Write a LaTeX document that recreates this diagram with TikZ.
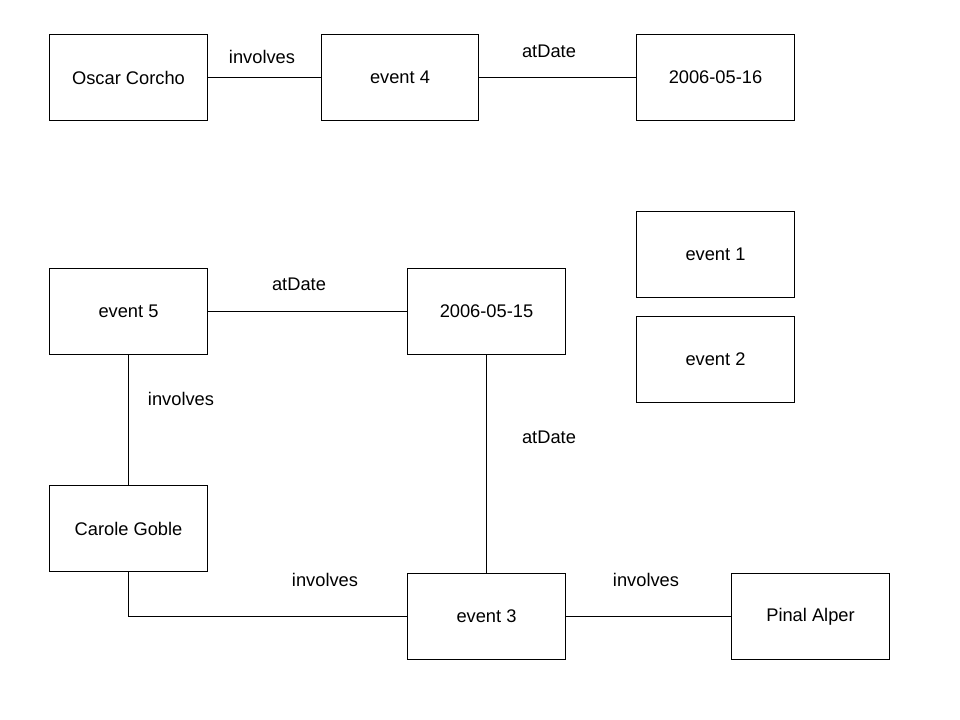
\documentclass[tikz,border=0pt]{standalone}
\usepackage{fontspec}
\setmainfont{Liberation Sans}
\usetikzlibrary{positioning}

\begin{document}
\begin{tikzpicture}[x=0.025cm, y=-0.025cm, line width=0.7pt,
    entity/.style={draw, minimum width=3.925cm, minimum height=2.125cm, font=\fontsize{13}{15}\selectfont},
    rel/.style={font=\fontsize{13}{15}\selectfont}]
    \useasboundingbox (0,0) rectangle (960,720);
    \node[entity] (oscar) at (128.5,77.5) {Oscar Corcho};
    \node[entity] (ev4) at (400,77.5) {event 4};
    \node[entity] (d16) at (715.5,77.5) {2006-05-16};
    \node[entity] (ev1) at (715.5,254.5) {event 1};
    \node[entity] (ev2) at (715.5,359.5) {event 2};
    \node[entity] (ev5) at (128.5,311.5) {event 5};
    \node[entity] (d15) at (486.5,311.5) {2006-05-15};
    \node[entity] (carole) at (128.5,528.5) {Carole Goble};
    \node[entity] (ev3) at (486.5,616.5) {event 3};
    \node[entity] (pinal) at (810.5,616.5) {Pinal Alper};

    \node[rel] (l1) at (262,57) {involves};
    \node[rel] (l2) at (549,51) {atDate};
    \node[rel] (l3) at (299,284) {atDate};
    \node[rel] (l4) at (181,399) {involves};
    \node[rel] (l5) at (549,437) {atDate};
    \node[rel] (l6) at (325,580) {involves};
    \node[rel] (l7) at (646,580) {involves};

    \draw (oscar) -- (ev4);
    \draw (ev4) -- (d16);
    \draw (ev5) -- (d15);
    \draw (ev5) -- (carole);
    \draw (d15) -- (ev3);
    \draw (carole.south) |- (ev3.west);
    \draw (ev3) -- (pinal);
  \end{tikzpicture}
\end{document}
